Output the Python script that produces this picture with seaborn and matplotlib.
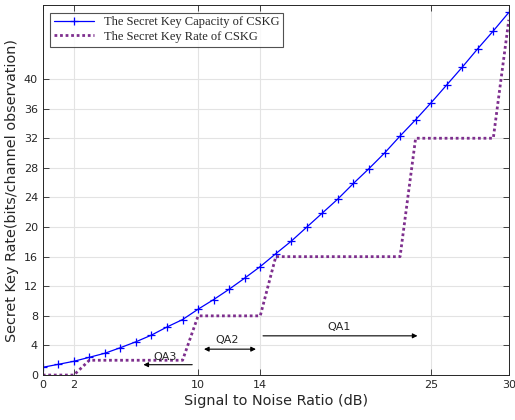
import numpy as np
import pandas as pd
import matplotlib
matplotlib.use("Agg")
import matplotlib.pyplot as plt
import seaborn as sns

# SNR in dB, one point per dB
snr = list(range(0, 31))
capacity = [1.05, 1.45, 1.86, 2.4, 2.95, 3.7, 4.5, 5.4, 6.5, 7.5, 8.9,
            10.2, 11.6, 13.1, 14.66, 16.4, 18.1, 20.0, 21.9, 23.8, 25.9,
            27.9, 30.0, 32.3, 34.5, 36.8, 39.2, 41.6, 44.1, 46.5, 49.0]
rate = [0, 0, 0, 2, 2, 2, 2, 2, 2, 2, 8,
        8, 8, 8, 8, 16, 16, 16, 16, 16, 16,
        16, 16, 16, 32, 32, 32, 32, 32, 32, 48]
xticks = [0, 2, 10, 14, 25, 30]
yticks = list(range(0, 41, 4))
cap_label = "The Secret Key Capacity of CSKG"
rate_label = "The Secret Key Rate of CSKG"

df = pd.DataFrame({"snr": snr, "capacity": capacity, "rate": rate})

sns.set_style("ticks")
plt.rcParams['font.family'] = ['DejaVu Sans']

fig = plt.figure(figsize=(5.15, 4.2), dpi=100)
ax = fig.add_axes([0.083, 0.107, 0.905, 0.881])

sns.lineplot(data=df, x="snr", y="capacity", ax=ax, color="#0000ff",
             linewidth=0.9, marker="+", markersize=6, markeredgewidth=0.9,
             markeredgecolor="#0000ff", label=cap_label)
sns.lineplot(data=df, x="snr", y="rate", ax=ax, color="#7e2f8e",
             linewidth=2.0, linestyle=(0, (1, 1)), label=rate_label)

ax.set_xlim(0, 30)
ax.set_ylim(0, 50)
ax.set_xticks(xticks)
ax.set_yticks(yticks)
ax.grid(True, color="#e3e3e3", linewidth=0.8)
ax.set_axisbelow(True)
ax.tick_params(direction="in", top=True, right=True, labelsize=8,
               colors="#262626", length=4, width=0.6)
for s in ax.spines.values():
    s.set_color("#262626")
    s.set_linewidth(0.7)

ax.set_xlabel("Signal to Noise Ratio (dB)", fontsize=10.4, color="#262626", labelpad=3)
ax.set_ylabel("Secret Key Rate(bits/channel observation)", fontsize=10.4,
              color="#262626", labelpad=3)

leg = ax.legend(loc="upper left", prop={"family": "Liberation Serif", "size": 9},
                frameon=True, fancybox=False, edgecolor="#262626",
                borderaxespad=0.6, handlelength=3.2, borderpad=0.3,
                labelspacing=0.2)
leg.get_frame().set_linewidth(0.8)

# quantization region annotations
arrow = dict(arrowstyle="-|>", color="black", lw=0.8, mutation_scale=7)
ax.annotate("", xy=(6.3, 1.4), xytext=(9.8, 1.4), arrowprops=arrow)
ax.text(7.9, 2.4, "QA3", fontsize=8, ha="center", va="center", color="#262626")
ax.annotate("", xy=(10.2, 3.5), xytext=(13.9, 3.5),
            arrowprops=dict(arrowstyle="<|-|>", color="black", lw=0.8, mutation_scale=7))
ax.text(11.9, 4.7, "QA2", fontsize=8, ha="center", va="center", color="#262626")
ax.annotate("", xy=(24.3, 5.3), xytext=(14.0, 5.3), arrowprops=arrow)
ax.text(19.1, 6.5, "QA1", fontsize=8, ha="center", va="center", color="#262626")

plt.savefig("out.png", dpi=100)
plt.close()
